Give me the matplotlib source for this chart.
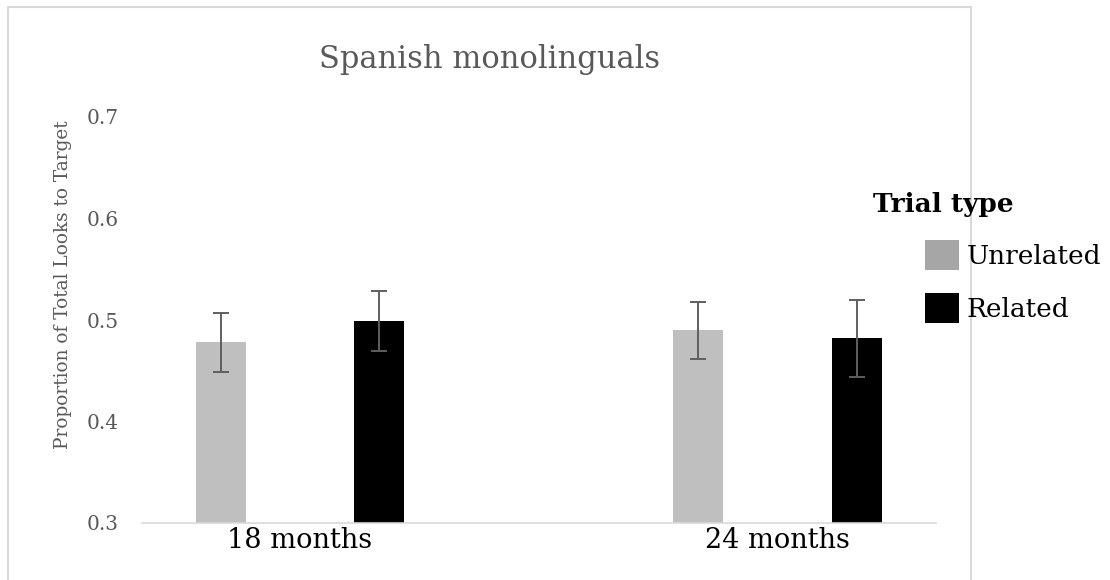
import matplotlib
matplotlib.use("Agg")
import matplotlib.pyplot as plt
import numpy as np
from matplotlib.patches import Patch, Rectangle

categories = ["18 months", "24 months"]
series_names = ["Unrelated", "Related"]
unrelated = [0.478, 0.490]
related = [0.499, 0.482]
unrelated_err = [0.029, 0.028]
related_err = [0.030, 0.038]
yticks = [0.3, 0.4, 0.5, 0.6, 0.7]
ytick_labels = ["0.3", "0.4", "0.5", "0.6", "0.7"]

plt.rcParams["font.family"] = ["DejaVu Serif"]

W, H = 1110, 580
fig = plt.figure(figsize=(W / 100, H / 100), dpi=100)
fig.patch.set_facecolor("white")

# outer chart border
fig.patches.append(Rectangle((8 / W, -0.1), (971 - 8) / W, 1.1 - 7 / H,
                             transform=fig.transFigure, fill=False,
                             edgecolor="#D9D9D9", linewidth=1.5))

ax = fig.add_axes([142 / W, 1 - 523 / H, (936 - 142) / W, (523 - 117) / H])
x = np.arange(len(categories))
off = 0.166
bw = 0.105
ecol = "#5F5F5F"
ax.bar(x - off, unrelated, bw, color="#BFBFBF", zorder=2)
ax.bar(x + off, related, bw, color="#000000", zorder=2)
ax.errorbar(x - off, unrelated, yerr=unrelated_err, fmt="none", ecolor=ecol,
            elinewidth=1.4, capsize=5.5, capthick=1.4, zorder=3)
ax.errorbar(x + off, related, yerr=related_err, fmt="none", ecolor=ecol,
            elinewidth=1.4, capsize=5.5, capthick=1.4, zorder=3)

ax.set_ylim(0.3, 0.7)
ax.set_xlim(-0.331, 1.332)
ax.set_yticks(yticks)
ax.set_yticklabels(ytick_labels, fontsize=14.5, color="#595959")
ax.set_xticks(x)
ax.set_xticklabels(categories, fontsize=19.5, color="#000000")
ax.tick_params(axis="y", length=0, pad=17)
ax.tick_params(axis="x", length=0, pad=3)
for s in ["left", "right", "top"]:
    ax.spines[s].set_visible(False)
ax.spines["bottom"].set_color("#D9D9D9")
ax.spines["bottom"].set_linewidth(1.2)

fig.text(490 / W, 1 - 68 / H, "Spanish monolinguals", ha="center",
         va="baseline", fontsize=22, color="#595959")
fig.text(63 / W, 1 - 285 / H, "Proportion of Total Looks to Target",
         rotation=90, ha="center", va="center", fontsize=13.3, color="#595959")

fig.text(873 / W, 1 - 212 / H, "Trial type", ha="left", va="baseline",
         fontsize=19, fontweight="bold", color="#000000")
handles = [Patch(facecolor="#A6A6A6", edgecolor="none"),
           Patch(facecolor="#000000", edgecolor="none")]
fig.legend(handles, series_names, loc="upper left",
           bbox_to_anchor=(925 / W, 1 - 240 / H), frameon=False,
           fontsize=19, handlelength=1.29, handleheight=1.35,
           handletextpad=0.3, labelspacing=0.9, borderpad=0,
           borderaxespad=0)

fig.savefig("out.png", dpi=100)
